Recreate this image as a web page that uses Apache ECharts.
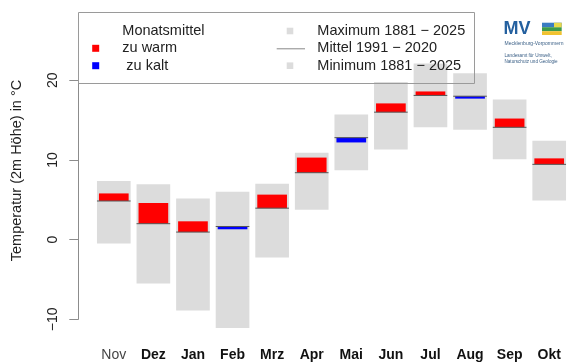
<!DOCTYPE html>
<html>
<head>
<meta charset="utf-8">
<script src="https://cdn.jsdelivr.net/npm/echarts@6/dist/echarts.min.js"></script>
<style>html,body{margin:0;padding:0;background:#fff}#c{width:569px;height:363px}</style>
</head>
<body>
<div id="c"></div>
<script>
// Data (°C)
const months = ['Nov','Dez','Jan','Feb','Mrz','Apr','Mai','Jun','Jul','Aug','Sep','Okt'];
const maxT   = [7.35, 6.95, 5.15, 6.0, 7.0, 10.9, 15.7, 19.8, 22.1, 20.9, 17.6, 12.4];
const minT   = [-0.5, -5.5, -8.9, -11.1, -2.25, 3.75, 8.7, 11.3, 14.1, 13.8, 10.1, 4.9];
const mean9120 = [4.85, 2.0, 0.95, 1.65, 3.95, 8.4, 12.8, 16.0, 18.1, 18.0, 14.1, 9.45];
const monthMean = [5.8, 4.6, 2.3, 1.3, 5.65, 10.3, 12.2, 17.1, 18.6, 17.7, 15.2, 10.2];
const yTicks = [-10, 0, 10, 20];

const FONT = "'Liberation Sans', Arial, Helvetica, sans-serif";
const chart = echarts.init(document.getElementById('c'), null, {renderer:'canvas'});

const rangeData = months.map((m,i)=>[i, minT[i], maxT[i]]);
const anomData  = months.map((m,i)=>[i, mean9120[i], monthMean[i]]);
const meanData  = months.map((m,i)=>[i, mean9120[i]]);

function rectItem(api, lo, hi, frac, color){
  const x = api.value(0);
  const band = api.size([1,0])[0];
  const w = band*frac;
  const p1 = api.coord([x, Math.max(lo,hi)]);
  const p2 = api.coord([x, Math.min(lo,hi)]);
  return {type:'rect', shape:{x:p1[0]-w/2, y:p1[1], width:w, height:Math.max(p2[1]-p1[1],1)}, style:{fill:color}};
}

const legX = 78, legY = 12, legW = 396, legH = 71;
const rowY = [31, 48.3, 65.7];
const lt = {fontFamily:FONT, fontSize:14.5, fill:'#222', verticalAlign:'middle'};

chart.setOption({
  animation:false,
  grid:{left:94, top:80.3, width:480, height:239},
  xAxis:{
    type:'category', data:months, boundaryGap:true,
    axisLine:{show:false}, axisTick:{show:false},
    axisLabel:{margin:29, interval:0,
      formatter:(v,i)=> i===0 ? '{n|'+v+'}' : '{b|'+v+'}',
      rich:{n:{fontFamily:FONT,fontSize:14,color:'#444'}, b:{fontFamily:FONT,fontSize:14,fontWeight:'bold',color:'#111'}}}
  },
  yAxis:{
    type:'value', min:yTicks[0], max:yTicks[yTicks.length-1], interval:yTicks[1]-yTicks[0],
    offset:15.7,
    splitLine:{show:false},
    axisLine:{show:true, lineStyle:{color:'#8c8c8c', width:1}},
    axisTick:{show:true, length:9, lineStyle:{color:'#8c8c8c'}},
    axisLabel:{rotate:90, margin:18, fontFamily:FONT, fontSize:14, color:'#222',
      formatter:v=>String(v).replace('-','\u2212')}
  },
  series:[
    {type:'custom', name:'Bereich', clip:false, data:rangeData, encode:{x:0,y:[1,2]},
      renderItem:(p,api)=>rectItem(api, api.value(1), api.value(2), 0.85, '#dcdcdc')},
    {type:'custom', name:'Abweichung', clip:false, data:anomData, encode:{x:0,y:[1,2]},
      renderItem:(p,api)=>rectItem(api, api.value(1), api.value(2), 0.75, api.value(2)>=api.value(1)?'#ff0000':'#0000ff')},
    {type:'custom', name:'Mittel', clip:false, data:meanData, encode:{x:0,y:1},
      renderItem:(p,api)=>{
        const x=api.value(0), band=api.size([1,0])[0], w=band*0.85;
        const c=api.coord([x, api.value(1)]);
        return {type:'line', shape:{x1:c[0]-w/2, y1:c[1], x2:c[0]+w/2, y2:c[1]}, style:{stroke:'#555', lineWidth:1}};
      }}
  ],
  graphic:[
    {type:'text', x:17, y:170.5, rotation:Math.PI/2,
      style:{text:'Temperatur (2m Höhe) in °C', fontFamily:FONT, fontSize:14.5, fill:'#222', align:'center', verticalAlign:'middle'}},
    // legend box
    {type:'rect', shape:{x:legX+0.5, y:legY+0.5, width:legW, height:legH}, style:{fill:'none', stroke:'#9a9a9a', lineWidth:1}, z:10},
    {type:'text', x:122.3, y:rowY[0], style:Object.assign({text:'Monatsmittel'}, lt), z:10},
    {type:'rect', shape:{x:92.2, y:rowY[1]-3.5, width:7, height:7}, style:{fill:'#ff0000'}, z:10},
    {type:'text', x:122.3, y:rowY[1], style:Object.assign({text:'zu warm'}, lt), z:10},
    {type:'rect', shape:{x:92.2, y:rowY[2]-3.5, width:7, height:7}, style:{fill:'#0000ff'}, z:10},
    {type:'text', x:122.3, y:rowY[2], style:Object.assign({text:' zu kalt'}, lt), z:10},
    {type:'rect', shape:{x:286.7, y:rowY[0]-3.3, width:6.6, height:6.6}, style:{fill:'#dcdcdc'}, z:10},
    {type:'text', x:317.3, y:rowY[0], style:Object.assign({text:'Maximum 1881 \u2212 2025'}, lt), z:10},
    {type:'line', shape:{x1:276.7, y1:rowY[1]+0.5, x2:305, y2:rowY[1]+0.5}, style:{stroke:'#888', lineWidth:1}, z:10},
    {type:'text', x:317.3, y:rowY[1], style:Object.assign({text:'Mittel 1991 \u2212 2020'}, lt), z:10},
    {type:'rect', shape:{x:286.7, y:rowY[2]-3.3, width:6.6, height:6.6}, style:{fill:'#dcdcdc'}, z:10},
    {type:'text', x:317.3, y:rowY[2], style:Object.assign({text:'Minimum 1881 \u2212 2025'}, lt), z:10},
    // logo
    {type:'text', x:503.5, y:29, style:{text:'MV', fontFamily:FONT, fontSize:18, fontWeight:'bold', fill:'#24609f', verticalAlign:'middle'}, z:10},
    {type:'rect', shape:{x:542, y:22.7, width:19.7, height:4.5}, style:{fill:'#3a7cc2'}, z:10},
    {type:'rect', shape:{x:554, y:22.7, width:7.7, height:4.5}, style:{fill:'#e8d84a'}, z:11},
    {type:'rect', shape:{x:542, y:27.2, width:19.7, height:4}, style:{fill:'#3c9a4a'}, z:10},
    {type:'rect', shape:{x:542, y:31.2, width:19.7, height:3.8}, style:{fill:'#f0c230'}, z:10},
    {type:'text', x:504.5, y:43.5, style:{text:'Mecklenburg-Vorpommern', fontFamily:FONT, fontSize:5, fill:'#3a5f86', verticalAlign:'middle'}, z:10},
    {type:'text', x:504.5, y:55.7, style:{text:'Landesamt für Umwelt,', fontFamily:FONT, fontSize:4.6, fill:'#3a5f86', verticalAlign:'middle'}, z:10},
    {type:'text', x:504.5, y:61.7, style:{text:'Naturschutz und Geologie', fontFamily:FONT, fontSize:4.6, fill:'#3a5f86', verticalAlign:'middle'}, z:10}
  ]
});
</script>
</body>
</html>
